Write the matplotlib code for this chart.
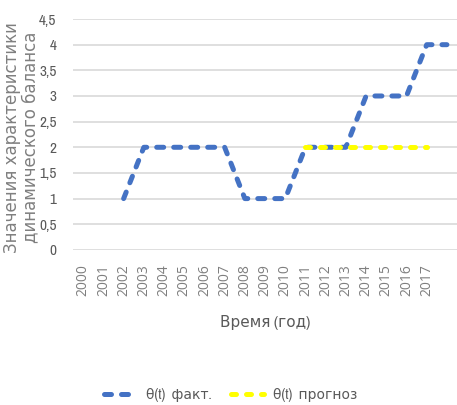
import numpy as np
import matplotlib.pyplot as plt
from matplotlib import font_manager

# Data
years = ['2000', '2001', '2002', '2003', '2004', '2005', '2006', '2007', '2008',
         '2009', '2010', '2011', '2012', '2013', '2014', '2015', '2016', '2017', '']
fact = [np.nan, np.nan, 1, 2, 2, 2, 2, 2, 1, 1, 1, 2, 2, 2, 3, 3, 3, 4, 4]
forecast = [np.nan] * 11 + [2, 2, 2, 2, 2, 2, 2, np.nan]

names = sorted({f.name for f in font_manager.fontManager.ttflist})
narrow = [n for n in names if 'Narrow' in n or 'Condensed' in n]
main_font = narrow[0] if narrow else 'Roboto'
plt.rcParams['font.family'] = [main_font, 'DejaVu Sans']

grey = '#595959'
x = np.arange(len(years))

fig = plt.figure(figsize=(4.57, 4.05), dpi=100)
ax = fig.add_axes([0.160, 0.383, 0.840, 0.570])

ax.plot(x, fact, color='#4472C4', lw=3.6, linestyle=(0, (1.4, 2.0)),
        dash_capstyle='round', label='θ(t)  факт.', zorder=3)
ax.plot(x, forecast, color='#FFFF00', lw=3.6, linestyle=(0, (1.0, 2.0)),
        dash_capstyle='round', label='θ(t)  прогноз', zorder=4)

ax.set_xlim(-0.5, len(years) - 0.5)
ax.set_ylim(0, 4.5)
yt = np.arange(0, 4.51, 0.5)
ax.set_yticks(yt)
ax.set_yticklabels([f'{v:g}'.replace('.', ',') for v in yt],
                   fontsize=11, color=grey)
ax.set_xticks(x)
ax.set_xticklabels(years, rotation=90, fontsize=10, color='#7f7f7f', family='Open Sans')
ax.tick_params(length=0, pad=10)
ax.tick_params(axis='y', pad=12)
ax.grid(axis='y', color='#D9D9D9', lw=1.2)
ax.set_axisbelow(True)
for s in ax.spines.values():
    s.set_visible(False)

ax.set_xlabel('Время (год)', fontsize=11, color=grey, labelpad=14)
fig.text(0.047, 0.66, 'Значения характеристики\nдинамического баланса',
         rotation=90, ha='center', va='center', fontsize=12, color='#7f7f7f',
         family='DejaVu Sans', linespacing=1.0)

fig.legend(loc='center', bbox_to_anchor=(0.505, 0.025), ncol=2, frameon=False,
           fontsize=10, handlelength=2.4, handletextpad=0.6, columnspacing=1.4,
           labelcolor=grey)

fig.savefig('out.png', dpi=100)
